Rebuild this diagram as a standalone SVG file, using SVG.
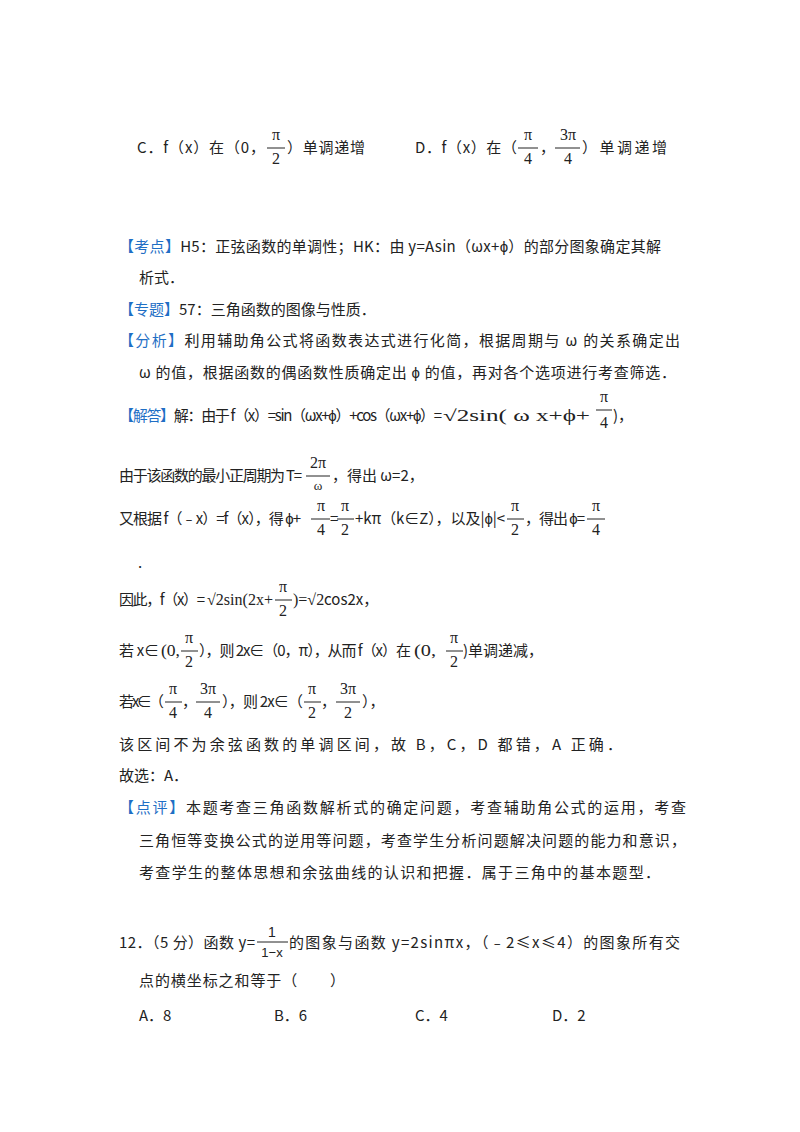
<svg xmlns="http://www.w3.org/2000/svg" width="800" height="1132" viewBox="0 0 800 1132">
<style>
text{font-family:"Noto Sans CJK SC","Liberation Sans",sans-serif;font-size:15px;fill:#222}
.b{fill:#1f6fc5}
.s{font-family:"Liberation Serif","Noto Sans CJK SC",serif;font-size:16px}
.m{font-family:"Liberation Serif","Noto Sans CJK SC",serif;font-size:16px;text-anchor:middle}
line{stroke:#222;stroke-width:1}
</style>
<rect width="800" height="1132" fill="#fff"/>
<g id="options-cd">
<text x="137" y="153" textLength="128">C．f（x）在（0，</text>
<text class="m" x="276" y="140">π</text><line x1="267" y1="148" x2="285" y2="148"/><text class="m" x="276" y="164">2</text>
<text x="287" y="153" textLength="78">）单调递增</text>
<text x="415" y="153" textLength="102">D．f（x）在（</text>
<text class="m" x="528" y="140">π</text><line x1="518" y1="148" x2="538" y2="148"/><text class="m" x="528" y="164">4</text>
<text x="540" y="153">，</text>
<text class="m" x="568" y="140">3π</text><line x1="555" y1="148" x2="580" y2="148"/><text class="m" x="568" y="164">4</text>
<text x="582" y="153" textLength="85">）单调递增</text>
</g>
<g id="kaodian">
<text x="119" y="252" textLength="542"><tspan class="b">【考点】</tspan>H5：正弦函数的单调性；HK：由 y=Asin（ωx+ϕ）的部分图象确定其解</text>
<text x="139" y="283">析式．</text>
</g>
<g id="zhuanti"><text x="119" y="315"><tspan class="b">【专题】</tspan>57：三角函数的图像与性质．</text></g>
<g id="fenxi">
<text x="119" y="346" textLength="561"><tspan class="b">【分析】</tspan>利用辅助角公式将函数表达式进行化简，根据周期与 ω 的关系确定出</text>
<text x="139" y="378" textLength="537">ω 的值，根据函数的偶函数性质确定出 ϕ 的值，再对各个选项进行考查筛选．</text>
</g>
<g id="jieda">
<text x="119" y="421" textLength="323"><tspan class="b">【解答】</tspan>解：由于 f（x）=sin（ωx+ϕ）+cos（ωx+ϕ）=</text>
<text class="s" x="443" y="421" textLength="147" lengthAdjust="spacingAndGlyphs">√2sin( ω x+ϕ+</text>
<text class="m" x="604" y="402">π</text><line x1="596" y1="410" x2="612" y2="410"/><text class="m" x="604" y="428">4</text>
<text x="613" y="421">)，</text>

<text x="119" y="481" textLength="183">由于该函数的最小正周期为 T=</text>
<text class="m" x="318" y="468">2π</text><line x1="306" y1="476" x2="330" y2="476"/><text class="m" x="318" y="490" style="font-size:13px">ω</text>
<text x="332" y="481">，得出 ω=2，</text>

<text x="119" y="524" textLength="182">又根据 f（﹣x）=f（x），得 ϕ+</text>
<text class="m" x="321" y="511">π</text><line x1="311" y1="519" x2="330" y2="519"/><text class="m" x="321" y="535">4</text>
<text x="330" y="524">=</text>
<text class="m" x="345" y="511">π</text><line x1="337" y1="519" x2="354" y2="519"/><text class="m" x="345" y="535">2</text>
<text x="355" y="524" textLength="150">+kπ（k∈Z），以及|ϕ|&lt;</text>
<text class="m" x="515" y="511">π</text><line x1="507" y1="519" x2="524" y2="519"/><text class="m" x="515" y="535">2</text>
<text x="525" y="524" textLength="60">，得出 ϕ=</text>
<text class="m" x="596" y="511">π</text><line x1="587" y1="519" x2="605" y2="519"/><text class="m" x="596" y="535">4</text>
<text x="138" y="568">.</text>

<text x="119" y="605" textLength="86">因此，f（x）=</text>
<text class="s" x="207" y="605" textLength="66" lengthAdjust="spacingAndGlyphs">√2sin(2x+</text>
<text class="m" x="283" y="592">π</text><line x1="275" y1="600" x2="292" y2="600"/><text class="m" x="283" y="616">2</text>
<text class="s" x="293" y="605">)=√2</text>
<text x="324" y="605">cos2x，</text>

<text x="119" y="656" textLength="40">若 x∈</text>
<text class="s" x="161" y="656" textLength="19" lengthAdjust="spacingAndGlyphs">(0,</text>
<text class="m" x="189" y="643">π</text><line x1="181" y1="651" x2="198" y2="651"/><text class="m" x="189" y="667">2</text>
<text x="199" y="656" textLength="212">），则 2x∈（0，π），从而 f（x）在</text>
<text class="s" x="414" y="656" textLength="22" lengthAdjust="spacingAndGlyphs">(0,</text>
<text class="m" x="454" y="643">π</text><line x1="446" y1="651" x2="463" y2="651"/><text class="m" x="454" y="667">2</text>
<text x="463" y="656">)单调递减，</text>

<text x="119" y="707" textLength="45">若 x∈（</text>
<text class="m" x="173" y="694">π</text><line x1="165" y1="702" x2="182" y2="702"/><text class="m" x="173" y="718">4</text>
<text x="182" y="707">，</text>
<text class="m" x="208" y="694">3π</text><line x1="196" y1="702" x2="220" y2="702"/><text class="m" x="208" y="718">4</text>
<text x="222" y="707" textLength="81">），则 2x∈（</text>
<text class="m" x="312" y="694">π</text><line x1="304" y1="702" x2="321" y2="702"/><text class="m" x="312" y="718">2</text>
<text x="321" y="707">，</text>
<text class="m" x="348" y="694">3π</text><line x1="336" y1="702" x2="360" y2="702"/><text class="m" x="348" y="718">2</text>
<text x="362" y="707">），</text>

<text x="119" y="750" textLength="503">该区间不为余弦函数的单调区间，故 B，C，D 都错，A 正确．</text>
<text x="119" y="781">故选：A．</text>
</g>
<g id="dianping">
<text x="119" y="813" textLength="567"><tspan class="b">【点评】</tspan>本题考查三角函数解析式的确定问题，考查辅助角公式的运用，考查</text>
<text x="139" y="846" textLength="547">三角恒等变换公式的逆用等问题，考查学生分析问题解决问题的能力和意识，</text>
<text x="139" y="878" textLength="521">考查学生的整体思想和余弦曲线的认识和把握．属于三角中的基本题型．</text>
</g>
<g id="q12">
<text x="119" y="948" textLength="136">12．（5 分）函数 y=</text>
<text class="m" x="272" y="937" style="font-family:'Liberation Sans',sans-serif;font-size:14px">1</text><line x1="257" y1="942" x2="288" y2="942"/><text class="m" x="272" y="957" style="font-family:'Liberation Sans',sans-serif;font-size:13px">1−x</text>
<text x="289" y="948" textLength="391">的图象与函数 y=2sinπx，（﹣2≤x≤4）的图象所有交</text>
<text x="139" y="986" textLength="206">点的横坐标之和等于（　　）</text>
<text x="139" y="1021">A．8</text>
<text x="274" y="1021">B．6</text>
<text x="415" y="1021">C．4</text>
<text x="552" y="1021">D．2</text>
</g>
</svg>
